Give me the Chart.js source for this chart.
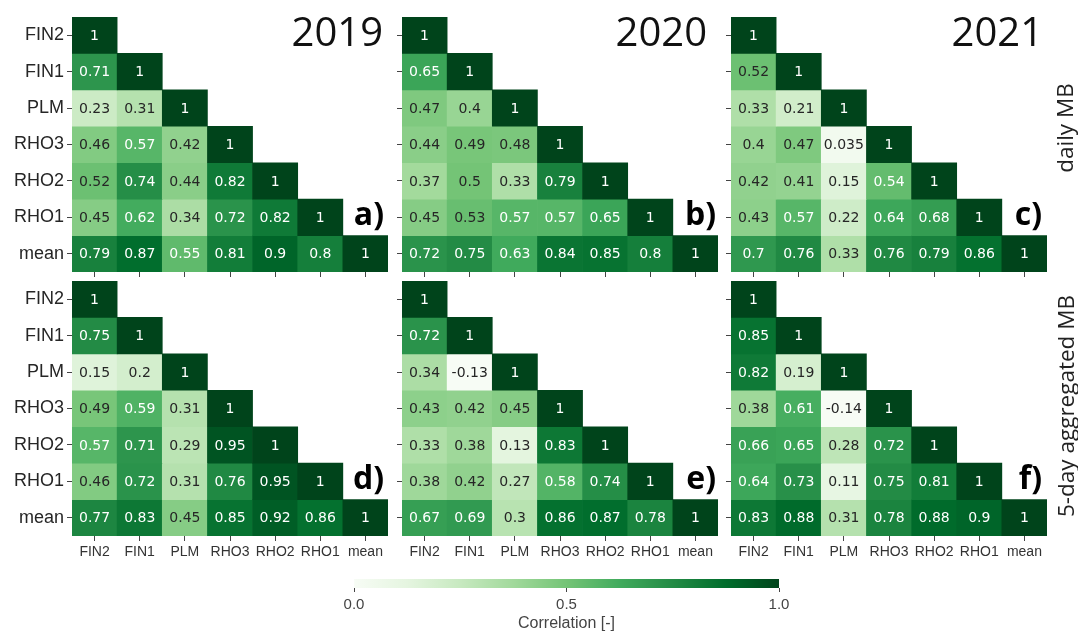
<!DOCTYPE html>
<html>
<head>
<meta charset="utf-8">
<script src="https://cdn.jsdelivr.net/npm/chart.js@4.4.0/dist/chart.umd.min.js"></script>
<style>
  body { margin: 0; background: #fff; }
  #fig { position: relative; width: 1078px; height: 634px; overflow: hidden; background: #fff; }
  canvas { position: absolute; }
  .year { position: absolute; font-family: "Open Sans"; font-size: 40px; line-height: 1; color: #111; white-space: nowrap; }
  .tag { position: absolute; font-family: "Open Sans"; font-weight: bold; font-size: 32px; line-height: 1; color: #000; white-space: nowrap; }
  .side { position: absolute; font-family: "Open Sans"; font-size: 22.5px; line-height: 1; color: #222; white-space: nowrap;
          transform: translate(-50%, -50%) rotate(-90deg); }
</style>
</head>
<body>
<div id="fig"></div>
<script>
// variable names (rows top->bottom, columns left->right)
var labels = ['FIN2', 'FIN1', 'PLM', 'RHO3', 'RHO2', 'RHO1', 'mean'];

// lower triangle of the correlation matrices, one row per variable
var daily2019 = [
  [1],
  [0.71, 1],
  [0.23, 0.31, 1],
  [0.46, 0.57, 0.42, 1],
  [0.52, 0.74, 0.44, 0.82, 1],
  [0.45, 0.62, 0.34, 0.72, 0.82, 1],
  [0.79, 0.87, 0.55, 0.81, 0.9, 0.8, 1]
];
var daily2020 = [
  [1],
  [0.65, 1],
  [0.47, 0.4, 1],
  [0.44, 0.49, 0.48, 1],
  [0.37, 0.5, 0.33, 0.79, 1],
  [0.45, 0.53, 0.57, 0.57, 0.65, 1],
  [0.72, 0.75, 0.63, 0.84, 0.85, 0.8, 1]
];
var daily2021 = [
  [1],
  [0.52, 1],
  [0.33, 0.21, 1],
  [0.4, 0.47, 0.035, 1],
  [0.42, 0.41, 0.15, 0.54, 1],
  [0.43, 0.57, 0.22, 0.64, 0.68, 1],
  [0.7, 0.76, 0.33, 0.76, 0.79, 0.86, 1]
];
var agg2019 = [
  [1],
  [0.75, 1],
  [0.15, 0.2, 1],
  [0.49, 0.59, 0.31, 1],
  [0.57, 0.71, 0.29, 0.95, 1],
  [0.46, 0.72, 0.31, 0.76, 0.95, 1],
  [0.77, 0.83, 0.45, 0.85, 0.92, 0.86, 1]
];
var agg2020 = [
  [1],
  [0.72, 1],
  [0.34, -0.13, 1],
  [0.43, 0.42, 0.45, 1],
  [0.33, 0.38, 0.13, 0.83, 1],
  [0.38, 0.42, 0.27, 0.58, 0.74, 1],
  [0.67, 0.69, 0.3, 0.86, 0.87, 0.78, 1]
];
var agg2021 = [
  [1],
  [0.85, 1],
  [0.82, 0.19, 1],
  [0.38, 0.61, -0.14, 1],
  [0.66, 0.65, 0.28, 0.72, 1],
  [0.64, 0.73, 0.11, 0.75, 0.81, 1],
  [0.83, 0.88, 0.31, 0.78, 0.88, 0.9, 1]
];

var years = ['2019', '2020', '2021'];
var panelTags = ['a)', 'b)', 'c)', 'd)', 'e)', 'f)'];
var rowTitles = ['daily MB', '5-day aggregated MB'];
var cbarTicks = [0, 0.5, 1];

// matplotlib "Greens"
var greens = ['#f7fcf5', '#e5f5e0', '#c7e9c0', '#a1d99b', '#74c476', '#41ab5d', '#238b45', '#006d2c', '#00441b'];

function hexRgb(h) {
  return [parseInt(h.substr(1, 2), 16), parseInt(h.substr(3, 2), 16), parseInt(h.substr(5, 2), 16)];
}
function cmap(v) {
  v = Math.max(0, Math.min(1, v));
  var p = v * 8, i = Math.min(7, Math.floor(p)), t = p - i;
  var a = hexRgb(greens[i]), b = hexRgb(greens[i + 1]);
  return [0, 1, 2].map(function (k) { return a[k] + (b[k] - a[k]) * t; });
}
function cssColor(v) {
  var c = cmap(v);
  return 'rgb(' + c.map(Math.round).join(',') + ')';
}
// same rule seaborn uses for annotation colour
function textColor(v) {
  var c = cmap(v).map(function (x) {
    x = x / 255;
    return x <= 0.03928 ? x / 12.92 : Math.pow((x + 0.055) / 1.055, 2.4);
  });
  var lum = 0.2126 * c[0] + 0.7152 * c[1] + 0.0722 * c[2];
  return lum > 0.408 ? '#262626' : '#ffffff';
}

var cellText = {
  id: 'cellText',
  afterDatasetsDraw: function (chart) {
    var ctx = chart.ctx;
    ctx.save();
    ctx.font = '14px "DejaVu Sans"';
    ctx.textAlign = 'center';
    ctx.textBaseline = 'middle';
    chart.data.datasets.forEach(function (ds, i) {
      chart.getDatasetMeta(i).data.forEach(function (bar, j) {
        var v = ds.values[j];
        if (v === undefined || v === null) return;
        ctx.fillStyle = textColor(v);
        ctx.fillText(String(v), bar.x, (bar.y + bar.base) / 2 + 1);
      });
    });
    ctx.restore();
  }
};

var fig = document.getElementById('fig');

var AXW = 72, AXH = 34, PADT = 6, PADR = 6, AREAW = 316, AREAH = 255;
var panels = [
  { m: daily2019, left: 72, top: 17, ylab: true, xlab: false },
  { m: daily2020, left: 402, top: 17, ylab: false, xlab: false },
  { m: daily2021, left: 731, top: 17, ylab: false, xlab: false },
  { m: agg2019, left: 72, top: 281, ylab: true, xlab: true },
  { m: agg2020, left: 402, top: 281, ylab: false, xlab: true },
  { m: agg2021, left: 731, top: 281, ylab: false, xlab: true }
];

panels.forEach(function (p) {
  var cv = document.createElement('canvas');
  cv.width = AXW + AREAW + PADR;
  cv.height = PADT + AREAH + AXH;
  cv.style.left = (p.left - AXW) + 'px';
  cv.style.top = (p.top - PADT) + 'px';
  fig.appendChild(cv);

  var datasets = p.m.map(function (row, r) {
    var data = labels.map(function (_, c) { return c <= r ? [r, r + 1] : null; });
    return {
      data: data,
      values: row,
      backgroundColor: labels.map(function (_, c) { return c <= r ? cssColor(row[c]) : 'rgba(0,0,0,0)'; }),
      borderWidth: 0,
      barPercentage: 1,
      categoryPercentage: 1,
      grouped: false
    };
  });

  new Chart(cv, {
    type: 'bar',
    data: { labels: labels, datasets: datasets },
    options: {
      responsive: false,
      animation: false,
      layout: { padding: { top: PADT, right: PADR, left: 0, bottom: 0 } },
      plugins: { legend: { display: false }, tooltip: { enabled: false } },
      scales: {
        x: {
          grid: { offset: false, drawOnChartArea: false, drawTicks: true, tickLength: 5, color: '#444' },
          border: { display: false },
          ticks: {
            padding: 3,
            color: '#333',
            font: { family: 'Liberation Sans', size: 14 },
            maxRotation: 0,
            autoSkip: false,
            callback: function (v, i) { return p.xlab ? labels[i] : ''; }
          },
          afterFit: function (s) { s.height = AXH; s.paddingLeft = 0; s.paddingRight = 0; }
        },
        y: {
          type: 'linear',
          min: 0,
          max: 7,
          reverse: true,
          afterBuildTicks: function (s) {
            s.ticks = labels.map(function (_, i) { return { value: i + 0.5 }; });
          },
          grid: { drawOnChartArea: false, drawTicks: true, tickLength: 5, color: '#444' },
          border: { display: false },
          ticks: {
            padding: 3,
            color: '#262626',
            font: { family: 'Liberation Sans', size: 18 },
            callback: function (v) { return p.ylab ? labels[Math.floor(v)] : ''; }
          },
          afterFit: function (s) { s.width = AXW; s.paddingTop = 0; s.paddingBottom = 0; }
        }
      }
    },
    plugins: [cellText]
  });
});

// titles, panel tags and row titles
function addText(cls, txt, css) {
  var d = document.createElement('div');
  d.className = cls;
  d.textContent = txt;
  for (var k in css) d.style[k] = css[k];
  fig.appendChild(d);
}
var yearRight = [383, 707, 1043];
years.forEach(function (y, i) {
  addText('year', y, { right: (1078 - yearRight[i]) + 'px', top: '11px' });
});
var tagRight = [384, 716, 1042];
panelTags.forEach(function (t, i) {
  addText('tag', t, { right: (1078 - tagRight[i % 3]) + 'px', top: (i < 3 ? 197 : 461) + 'px' });
});
addText('side', rowTitles[0], { left: '1065px', top: '128px' });
addText('side', rowTitles[1], { left: '1066px', top: '406px' });

// colour bar
var cb = document.createElement('canvas');
cb.width = 470;
cb.height = 60;
cb.style.left = (354 - 20) + 'px';
cb.style.top = (579 - 4) + 'px';
fig.appendChild(cb);

new Chart(cb, {
  type: 'bar',
  data: {
    labels: [''],
    datasets: [{
      data: [[0, 1]],
      borderWidth: 0,
      barPercentage: 1,
      categoryPercentage: 1,
      backgroundColor: function (ctx) {
        var a = ctx.chart.chartArea;
        if (!a) return greens[4];
        var g = ctx.chart.ctx.createLinearGradient(a.left, 0, a.right, 0);
        greens.forEach(function (c, i) { g.addColorStop(i / (greens.length - 1), c); });
        return g;
      }
    }]
  },
  options: {
    indexAxis: 'y',
    responsive: false,
    animation: false,
    layout: { padding: { top: 4, left: 20, right: 25, bottom: 0 } },
    plugins: { legend: { display: false }, tooltip: { enabled: false } },
    scales: {
      y: { display: false },
      x: {
        type: 'linear',
        min: 0,
        max: 1,
        afterBuildTicks: function (s) {
          s.ticks = cbarTicks.map(function (v) { return { value: v }; });
        },
        grid: { drawOnChartArea: false, drawTicks: true, tickLength: 4, color: '#444' },
        border: { display: false },
        ticks: {
          padding: 4,
          color: '#444',
          font: { family: 'Liberation Sans', size: 15 },
          maxRotation: 0,
          callback: function (v) { return v.toFixed(1); }
        },
        title: {
          display: true,
          text: 'Correlation [-]',
          color: '#444',
          font: { family: 'Liberation Sans', size: 16 },
          padding: { top: 0, bottom: 2 }
        },
        afterFit: function (s) { s.height = 47; }
      }
    }
  }
});
</script>
</body>
</html>
